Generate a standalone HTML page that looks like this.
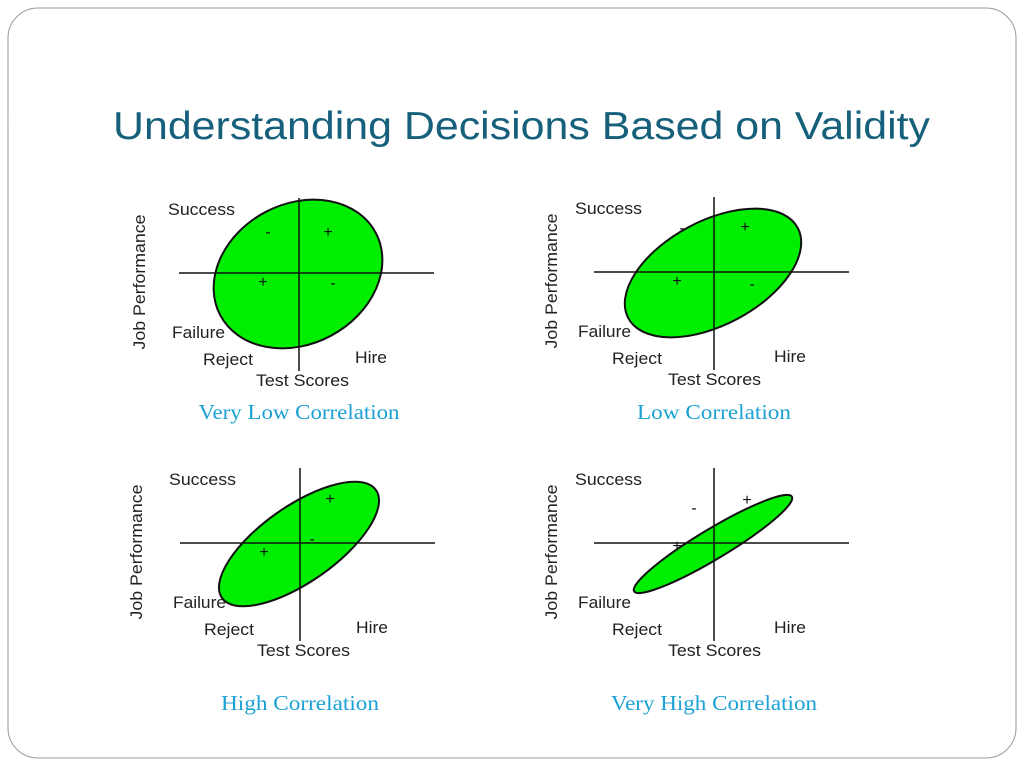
<!DOCTYPE html>
<html><head><meta charset="utf-8"><style>
body{margin:0;background:#fff}
svg{display:block}
</style></head><body>
<svg id="slide" width="1024" height="768" viewBox="0 0 1024 768" xmlns="http://www.w3.org/2000/svg" font-family="Liberation Sans, Arial, sans-serif">
<rect x="8" y="8" width="1008" height="750" rx="30" fill="#fff" stroke="#9a9a9a" stroke-width="1"/>
<text x="113" y="139" font-size="39" fill="#17607c" textLength="817" lengthAdjust="spacingAndGlyphs">Understanding Decisions Based on Validity</text>
<g id="panels"></g>
</svg>
<script>
// Chart data (per panel)
const captions = ["Very Low Correlation", "Low Correlation", "High Correlation", "Very High Correlation"];
const captionWidths = [201, 154, 158, 206];
const tiltDeg = [28, 28, 35, 31];            // ellipse tilt
const majorAxis = [88, 96, 94, 92];           // semi-major
const minorAxis = [70, 52, 38, 15];           // semi-minor
const signs = [
  [["-",-31,-36],["+",29,-36],["+",-36,14],["-",34,15]],
  [["-",-32,-39],["+",31,-40],["+",-37,14],["-",38,17]],
  [["+",30,-39],["+",-36,14],["-",12,1]],
  [["-",-20,-30],["+",33,-38],["+",-37,8]]
];
const origins = [[299,273],[714,272],[300,543],[714,543]];

const NS = "http://www.w3.org/2000/svg";
const root = document.getElementById("panels");
function mk(tag, attrs, parent){const e=document.createElementNS(NS,tag);for(const k in attrs)e.setAttribute(k,attrs[k]);parent.appendChild(e);return e;}

for (let i = 0; i < 4; i++) {
  const [ox, oy] = origins[i];
  const g = mk("g", {}, root);
  
  
  const el = mk("ellipse", {cx: ox - 1, cy: oy + 1, rx: majorAxis[i], ry: minorAxis[i],
    transform: `rotate(${-tiltDeg[i]} ${ox - 1} ${oy + 1})`, fill: "#00ee00", stroke: "#111", "stroke-width": 2}, g);
  
  
  const xl = mk("line", {x1: ox - 120, y1: oy, x2: ox + 135, y2: oy, stroke: "#111", "stroke-width": 1.5}, g);
  
  
  const yl = mk("line", {x1: ox, y1: oy - 75, x2: ox, y2: oy + 98, stroke: "#111", "stroke-width": 1.5}, g);
  
  
  const labels = [
    ["Success", ox - 131 + (i%2?-8:0), oy - 58, "success-label", 67],
    ["Failure", ox - 127 + (i%2?-9:0), oy + 65, "failure-label", 53],
    ["Reject", ox - 96 + (i%2?-6:0), oy + 92, "reject-label", 50],
    ["Hire", ox + 56 + (i%2?4:0), oy + 90, "hire-label", 32],
    ["Test Scores", ox - 43 + (i%2?-3:0), oy + 113, "x-axis-title", 93]
  ];
  for (const [t, x, y, n, w] of labels) {
    const tx = mk("text", {x: x, y: y, "font-size": 17, fill: "#222", textLength: w, lengthAdjust: "spacingAndGlyphs"}, g);
    tx.textContent = t;
    
    
  }
  const jx = i % 2 ? ox - 157 : ox - 154 - (i===2?4:0);
  const jp = mk("text", {x: jx, y: oy + 9, "font-size": 17, fill: "#222", "text-anchor": "middle",
    textLength: 135, lengthAdjust: "spacingAndGlyphs",
    transform: `rotate(-90 ${jx} ${oy + 9})`}, g);
  jp.textContent = "Job Performance";
  
  
  for (const [s, dx, dy] of signs[i]) {
    const st = mk("text", {x: ox + dx, y: oy + dy, "font-size": 16, fill: "#111", "text-anchor": "middle"}, g);
    st.textContent = s;
    
    
  }
  const cap = mk("text", {x: ox, y: i < 2 ? 419 : 710, "font-size": 21, fill: "#1ba1d4",
    "font-family": "Liberation Serif, serif", "text-anchor": "middle",
    textLength: captionWidths[i], lengthAdjust: "spacingAndGlyphs"}, g);
  cap.textContent = captions[i];
  
  
}
</script>
</body></html>
